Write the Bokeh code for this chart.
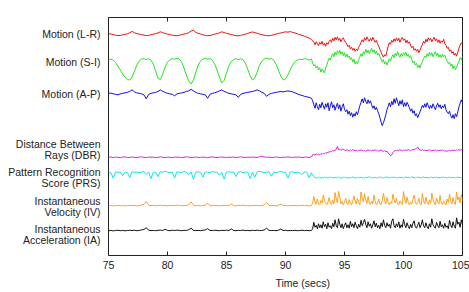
import numpy as np
from bokeh.plotting import figure
from bokeh.models import Range1d, FixedTicker, LinearAxis, Title
from bokeh.embed import file_html
from bokeh.resources import INLINE

# Two sampling segments: calm phase (0.2 s steps from 75 s, 87 samples)
# and disturbed phase (0.1 s steps from 92.3 s, 128 samples)
pre_start, pre_step = 75.0, 0.2
post_start, post_step = 92.3, 0.1

# ---- Motion (L-R) ----
motion_lr_pre = [
    0.7, 0.3, -0.3, -0.8, -1.2, -1.0, -0.6, 0.0, 0.6, 1.5,
    3.0, 1.6, 0.8, 0.2, -0.3, -0.8, -1.3, -1.0, -0.4, 0.2,
    0.8, 1.5, 2.6, 1.7, 0.9, 0.3, -0.2, -0.8, -1.2, -1.4,
    -0.9, -0.3, 0.3, 0.9, 1.6, 3.4, 4.2, 2.0, 1.0, 0.3,
    -0.4, -1.0, -1.4, -1.1, -0.5, 0.2, 0.8, 1.5, 2.6, 1.8,
    1.0, 0.4, -0.2, -0.8, -1.3, -1.5, -1.0, -0.4, 0.3, 0.9,
    1.8, 2.4, 1.8, 1.0, 0.3, -0.3, -0.9, -1.3, -1.4, -1.0,
    -0.4, 0.3, 0.9, 1.4, 1.9, 2.6, 2.2, 2.8, 2.0, 1.4,
    0.6, -0.2, -1.0, -1.8, -2.8, -3.8, -5.0,
]
motion_lr_post = [
    -6.5, -8.0, -10.5, -7.5, -9.5, -11.5, -8.0, -10.0, -7.0, -11.0,
    -9.0, -12.0, -8.5, -10.0, -7.0, -5.5, -8.0, -4.0, -6.5, -3.0,
    -5.5, -2.5, -6.0, -4.0, -7.5, -5.0, -3.5, -6.5, -8.0, -10.0,
    -12.5, -11.0, -14.5, -13.0, -16.0, -14.0, -17.0, -15.0, -16.5, -13.0,
    -11.0, -8.0, -5.5, -7.5, -3.5, -6.0, -2.5, -5.0, -7.0, -4.0,
    -6.5, -3.0, -5.5, -8.0, -6.0, -9.5, -12.0, -15.0, -18.0, -21.0,
    -23.0, -20.5, -22.0, -17.0, -12.0, -8.5, -10.0, -6.0, -8.0, -4.5,
    -7.0, -3.5, -6.5, -4.0, -8.0, -5.0, -3.0, -6.0, -4.5, -8.5,
    -6.0, -9.0, -7.5, -11.0, -13.5, -12.0, -16.0, -14.5, -17.0, -15.0,
    -18.5, -16.0, -13.0, -10.5, -7.0, -9.0, -5.0, -7.5, -3.5, -6.0,
    -4.0, -7.5, -5.0, -3.0, -6.5, -4.5, -8.0, -5.5, -9.0, -6.5,
    -8.0, -5.0, -9.5, -11.0, -14.0, -13.0, -17.0, -15.5, -19.0, -17.5,
    -21.0, -19.0, -22.0, -18.0, -14.0, -11.0, -8.5, -10.5,
]

# ---- Motion (S-I) ----
motion_si_pre = [
    0.5, 1.0, 0.0, -2.5, -6.0, -10.0, -14.0, -17.5, -19.5, -20.0,
    -17.0, -11.0, -5.0, -1.0, 1.0, 1.5, 0.5, 1.5, 0.0, -4.0,
    -11.0, -18.5, -19.5, -14.0, -7.0, -2.0, 0.5, 1.5, 1.0, 2.0,
    1.0, -2.0, -8.0, -15.0, -21.0, -24.0, -20.0, -12.0, -5.0, -1.0,
    1.0, 2.0, 1.0, 1.5, 0.0, -4.0, -10.0, -17.0, -23.0, -20.5,
    -13.0, -6.0, -1.5, 0.5, 1.5, 0.5, 1.5, 0.5, -3.0, -9.0,
    -16.0, -20.0, -18.0, -12.0, -5.0, -1.0, 1.0, 2.0, 1.0, 1.5,
    0.0, -4.0, -10.0, -16.0, -20.0, -19.0, -15.0, -10.0, -5.0, -1.5,
    0.0, 1.0, 0.5, 1.5, 1.0, 0.0, 1.0,
]
motion_si_post = [
    -3.0, -6.0, -4.5, -8.0, -6.0, -10.0, -7.5, -12.0, -9.0, -11.0,
    -13.0, -8.0, -5.0, -1.0, 2.0, 0.0, 4.0, 6.5, 3.5, 8.0,
    5.5, 9.5, 7.0, 10.0, 6.0, 8.5, 4.5, 7.5, 3.0, 6.0,
    2.5, 4.0, 0.5, 2.5, -2.0, 1.0, -4.0, -1.5, -3.5, 0.5,
    3.0, 6.5, 4.0, 8.5, 6.0, 11.0, 7.5, 10.0, 6.5, 9.0,
    12.0, 8.0, 10.5, 6.5, 9.0, 5.0, 7.0, 3.5, 1.0, -2.0,
    0.5, -4.0, -1.5, -5.0, -2.0, 1.5, -1.0, 3.0, 5.5, 2.5,
    7.0, 4.5, 8.5, 5.0, 3.0, 6.5, 4.0, 7.5, 5.5, 8.0,
    4.0, 6.0, 2.5, 4.5, 0.5, -2.5, -1.0, -5.0, -3.0, -7.5,
    -5.0, -8.0, -4.0, -1.5, 1.5, 4.0, 2.5, 6.5, 4.0, 8.0,
    5.0, 7.5, 3.5, 6.0, 8.5, 4.5, 7.0, 3.0, 5.5, 2.5,
    6.0, 3.5, 5.0, 1.5, -1.0, -3.5, -2.0, -6.0, -4.0, -8.5,
    -6.0, -9.5, -7.0, -4.0, -1.0, 2.5, 0.5, 3.5,
]

# ---- Motion (A-P) ----
motion_ap_pre = [
    0.5, 0.8, 0.0, -0.5, -1.0, 0.0, 0.5, 1.0, 1.5, 2.5,
    4.0, 2.0, 1.0, 0.5, 0.0, -1.0, -5.0, -0.5, 0.5, 1.0,
    1.5, 2.5, 4.0, 2.5, 1.5, 0.5, 0.0, -0.5, -2.0, 0.0,
    0.5, 1.0, 1.5, 2.5, 3.0, 4.5, 3.0, 1.5, 0.5, 0.0,
    -0.5, -1.0, -4.5, -0.5, 0.5, 1.0, 2.0, 3.0, 4.0, 2.5,
    1.5, 0.5, 0.0, -0.5, -1.0, -3.5, -0.5, 0.5, 1.0, 1.5,
    2.0, 2.5, 3.0, 4.0, 3.0, 1.5, 0.5, -2.5, -0.5, 0.5,
    1.0, 1.5, 2.0, 2.5, 2.0, 2.5, 3.0, 2.5, 2.0, 1.0,
    0.0, -1.0, -1.5, -2.5, -3.0, -3.5, -4.5,
]
motion_ap_post = [
    -7.0, -11.0, -14.5, -9.0, -13.0, -16.0, -10.5, -14.0, -8.5, -12.0,
    -15.5, -10.0, -13.5, -9.0, -17.0, -12.0, -8.0, -14.0, -11.0, -16.5,
    -12.5, -9.5, -15.0, -11.0, -17.5, -13.0, -10.0, -15.5, -18.0, -16.0,
    -20.5, -17.5, -22.0, -19.0, -23.5, -20.0, -22.5, -18.0, -21.0, -16.5,
    -12.0, -8.5, -5.0, -9.0, -4.0, -7.5, -10.0, -6.0, -9.5, -7.0,
    -11.0, -14.5, -12.0, -16.0, -13.5, -17.0, -20.0, -24.0, -28.5, -32.0,
    -29.0, -25.5, -21.0, -16.0, -12.5, -9.0, -13.0, -7.5, -11.0, -5.0,
    -9.5, -4.0, -8.0, -12.0, -7.0, -10.5, -6.0, -13.0, -9.0, -12.5,
    -8.5, -11.0, -14.0, -17.5, -15.0, -19.5, -17.0, -22.0, -20.0, -24.0,
    -21.0, -18.0, -15.0, -11.5, -14.0, -10.0, -13.5, -9.0, -12.0, -15.0,
    -11.5, -14.5, -10.0, -13.0, -16.0, -12.0, -9.5, -13.5, -11.0, -15.0,
    -12.0, -14.0, -10.5, -16.0, -18.5, -20.0, -17.5, -22.0, -24.5, -21.0,
    -25.0, -20.0, -23.0, -18.0, -13.0, -9.5, -6.0, -9.0,
]

# ---- Distance Between Rays (DBR) ----
dbr_pre = [
    0.0, 0.3, -0.2, 0.2, 0.0, -0.3, 0.2, 0.4, 0.0, -0.2,
    0.3, 0.0, -0.3, 0.2, 0.5, 0.0, -0.2, 0.3, 0.0, 0.2,
    -0.3, 0.0, 0.4, 0.1, -0.2, 0.2, 0.0, -0.3, 0.3, 0.0,
    0.2, -0.2, 0.0, 0.5, 0.2, -0.1, 0.0, 0.3, -0.2, 0.0,
    0.2, 0.0, -0.3, 0.2, 0.4, 0.0, -0.2, 0.1, 0.3, 0.0,
    -0.2, 0.2, 0.0, 0.3, -0.1, 0.0, 0.4, 0.1, -0.2, 0.2,
    0.0, 0.3, 0.0, -0.2, 0.5, 1.2, 0.4, 0.0, 0.2, -0.2,
    0.0, 0.3, 0.1, -0.2, 0.2, 0.0, 0.4, 0.1, -0.1, 0.2,
    0.0, 0.3, -0.2, 0.1, 0.2, 0.0, 0.3,
]
dbr_post = [
    2.5, 3.0, 2.2, 3.5, 2.8, 3.2, 2.6, 3.8, 3.0, 4.2,
    3.6, 4.8, 4.2, 5.5, 5.0, 6.2, 5.8, 6.8, 6.4, 7.2,
    8.0, 11.0, 7.5, 8.2, 7.0, 7.8, 8.5, 7.2, 6.8, 7.6,
    7.0, 6.4, 7.5, 6.8, 7.8, 7.2, 6.5, 7.0, 6.2, 7.4,
    6.8, 7.6, 7.0, 6.5, 7.2, 6.0, 6.8, 7.5, 6.6, 7.0,
    6.4, 7.2, 6.8, 7.6, 6.5, 7.0, 6.2, 6.8, 7.4, 6.6,
    6.0, 6.8, 5.5, 6.2, 4.5, 3.0, 1.5, 2.5, 4.8, 6.2,
    7.0, 6.5, 7.4, 6.8, 7.6, 7.0, 6.4, 7.2, 6.8, 7.5,
    7.0, 7.8, 7.2, 6.6, 7.4, 8.0, 7.5, 8.4, 9.0, 10.5,
    8.2, 7.4, 7.0, 7.8, 6.8, 7.4, 6.6, 7.2, 6.8, 7.6,
    7.0, 6.5, 7.2, 6.8, 7.5, 6.4, 7.0, 6.6, 7.3, 6.8,
    7.4, 6.9, 6.2, 6.8, 6.0, 6.6, 7.0, 6.4, 7.2, 6.7,
    7.3, 6.8, 7.5, 7.0, 7.8, 7.2, 7.6, 8.0,
]

# ---- Pattern Recognition Score (PRS) ----
prs_pre = [
    1.0, 0.5, -5.0, 1.5, 0.8, 1.2, -2.5, 1.0, 0.5, -4.5,
    1.5, 0.8, 1.2, 0.5, 1.0, 1.8, -1.0, 1.2, -5.5, 0.8,
    1.0, -3.5, 1.5, 1.0, 2.0, 1.2, 0.5, 1.0, -5.0, 1.5,
    1.0, 0.5, 1.8, 1.0, -1.5, 1.2, -6.0, 1.0, 1.5, 0.8,
    -4.0, 1.2, 1.0, 0.5, 1.8, 1.0, 1.2, -2.0, 0.8, -6.0,
    1.0, 1.5, 0.8, 1.2, -3.5, 1.0, 1.8, 0.5, 1.2, 1.0,
    -5.5, 0.8, -4.0, 1.5, 2.0, 1.2, 0.5, 1.0, 1.5, -3.0,
    1.0, 0.5, 1.2, 1.8, 1.0, 0.8, -5.0, 1.2, 1.5, 0.5,
    1.0, 0.5, -1.5, 1.5, 1.0, -4.5, 0.5,
]
prs_post = [
    -2.0, -3.5, -4.5, -5.0, -4.2, -4.8, -4.0, -5.0, -4.4, -4.9,
    -3.8, -4.6, -4.2, -5.0, -4.5, -3.6, -4.8, -4.3, -5.1, -4.0,
    -4.7, -4.2, -3.8, -4.9, -4.5, -5.0, -4.1, -4.6, -3.9, -4.8,
    -4.4, -5.0, -4.2, -4.7, -3.7, -4.5, -4.9, -4.3, -5.0, -4.1,
    -4.6, -3.8, -4.8, -4.4, -5.0, -4.0, -4.7, -4.2, -3.5, -4.6,
    -4.9, -4.3, -4.8, -4.0, -4.5, -5.0, -4.2, -3.6, -4.7, -4.4,
    -5.0, -4.1, -4.6, -3.4, -4.8, -4.3, -4.9, -4.0, -4.5, -3.7,
    -4.8, -4.2, -5.0, -4.4, -3.9, -4.7, -4.1, -4.9, -4.3, -3.6,
    -4.6, -4.0, -4.8, -4.5, -3.2, -4.7, -4.2, -5.0, -4.4, -3.8,
    -4.6, -4.1, -4.9, -4.3, -3.5, -4.8, -4.0, -4.6, -4.2, -5.0,
    -4.4, -3.7, -4.8, -4.1, -4.6, -3.9, -4.7, -4.3, -5.0, -4.0,
    -4.5, -3.6, -4.8, -4.2, -4.9, -4.4, -3.8, -4.7, -4.1, -4.6,
    -4.0, -4.8, -4.3, -3.7, -4.6, -4.2, -4.9, -4.4,
]

# ---- Instantaneous Velocity (IV) ----
iv_pre = [
    0.2, 0.5, 0.0, 0.3, 0.6, 0.1, 0.4, 0.0, 0.3, 0.5,
    0.2, 0.6, 0.0, 0.4, 1.0, 1.5, 4.5, 0.8, 0.3, 0.5,
    0.1, 0.4, 0.7, 0.2, 0.5, 0.0, 0.3, 0.6, 0.2, 0.8,
    0.4, 0.1, 0.5, 0.3, 1.2, 4.0, 0.6, 0.2, 0.4, 0.0,
    0.5, 0.9, 2.5, 0.4, 0.2, 0.6, 0.3, 0.0, 0.5, 0.3,
    0.7, 0.2, 2.0, 0.4, 0.1, 0.5, 0.3, 0.8, 0.2, 0.4,
    0.0, 0.5, 0.3, 0.6, 0.2, 0.4, 1.0, 3.5, 0.5, 0.2,
    0.4, 0.1, 0.6, 2.0, 0.3, 0.5, 0.0, 0.4, 0.2, 0.5,
    0.1, 0.3, 0.6, 0.2, 0.4, 0.0, 0.3,
]
iv_post = [
    3.0, 9.5, 4.0, 1.5, 7.0, 2.0, 1.0, 5.5, 3.0, 11.0,
    6.0, 2.5, 1.0, 4.0, 8.5, 3.0, 1.5, 6.0, 2.0, 13.5,
    7.0, 3.0, 15.0, 9.0, 2.0, 4.5, 1.0, 3.5, 8.0, 2.5,
    1.5, 6.5, 3.0, 1.0, 4.5, 10.0, 5.0, 2.0, 7.5, 3.5,
    1.0, 14.0, 8.0, 4.0, 12.5, 6.0, 2.5, 9.5, 3.0, 1.5,
    5.0, 2.0, 11.0, 4.5, 1.0, 3.0, 7.0, 2.0, 1.5, 6.0,
    13.0, 5.5, 2.0, 8.5, 3.5, 1.0, 4.0, 2.5, 12.0, 6.0,
    3.0, 7.5, 2.0, 1.0, 5.0, 3.0, 1.5, 14.5, 7.0, 2.5,
    9.0, 3.5, 1.0, 4.0, 2.0, 6.5, 11.0, 4.0, 1.5, 3.0,
    7.5, 2.5, 1.0, 12.5, 5.0, 2.0, 9.0, 3.5, 1.5, 6.0,
    2.5, 13.0, 6.5, 3.0, 1.0, 8.0, 4.0, 2.0, 10.5, 3.0,
    1.5, 5.0, 2.0, 1.0, 7.0, 3.5, 12.0, 5.0, 2.0, 8.5,
    3.0, 1.5, 14.0, 6.0, 9.0, 3.0, 11.5, 5.0,
]

# ---- Instantaneous Acceleration (IA) ----
ia_pre = [
    0.0, 0.3, -0.2, 0.2, 0.4, 0.0, 0.3, -0.1, 0.2, 0.4,
    0.1, 0.5, 0.0, 0.3, 0.8, 1.2, 3.0, 0.5, 0.1, 0.3,
    0.0, 0.4, 0.6, 0.2, 1.5, 0.3, 0.0, 0.5, 0.2, 0.6,
    0.3, 0.0, 0.4, 0.2, 1.0, 2.5, 0.4, 0.1, 0.3, 0.0,
    0.4, 0.8, 2.0, 0.3, 0.1, 0.5, 0.2, 0.0, 0.4, 0.2,
    0.6, 0.1, 1.8, 0.3, 0.0, 0.4, 0.2, 0.6, 0.1, 0.3,
    0.0, 0.4, 0.2, 0.5, 0.1, 0.3, 0.8, 2.5, 0.4, 0.1,
    0.3, 0.0, 0.5, 1.6, 0.2, 0.4, 0.0, 0.3, 0.1, 0.4,
    0.0, 0.2, 0.5, 0.1, 0.3, 0.0, 0.2,
]
ia_post = [
    2.0, 8.5, 3.5, 5.5, 2.0, 7.0, 3.0, 6.0, 2.5, 9.0,
    4.0, 6.5, 2.0, 8.0, 3.5, 5.0, 2.0, 7.5, 4.0, 11.0,
    5.0, 3.0, 12.0, 6.5, 3.0, 7.0, 2.0, 5.5, 8.0, 3.0,
    6.0, 2.5, 9.5, 4.0, 7.0, 3.0, 8.5, 5.0, 2.0, 6.5,
    3.5, 10.5, 5.0, 8.0, 11.5, 6.0, 3.0, 9.0, 4.5, 7.0,
    2.5, 6.0, 10.0, 4.0, 7.5, 3.0, 5.5, 2.0, 8.0, 4.0,
    11.0, 5.5, 3.0, 8.0, 4.5, 6.5, 2.5, 9.5, 12.0, 5.0,
    3.0, 7.0, 4.0, 9.0, 2.5, 6.0, 3.5, 11.5, 6.0, 3.0,
    8.0, 4.5, 2.0, 6.5, 3.0, 7.5, 10.0, 4.0, 2.5, 5.5,
    8.5, 3.0, 6.0, 11.0, 5.0, 3.0, 8.0, 4.0, 2.0, 7.0,
    3.5, 12.0, 6.0, 4.0, 2.5, 8.5, 5.0, 3.0, 9.5, 4.0,
    6.0, 2.5, 7.5, 3.5, 5.0, 2.0, 10.5, 6.0, 3.0, 9.0,
    4.5, 2.5, 13.0, 6.5, 8.5, 3.5, 11.0, 6.0,
]

traces = [
    (motion_lr_pre, motion_lr_post),
    (motion_si_pre, motion_si_post),
    (motion_ap_pre, motion_ap_post),
    (dbr_pre, dbr_post),
    (prs_pre, prs_post),
    (iv_pre, iv_post),
    (ia_pre, ia_post),
]
# Vertical stacking offset of each trace
offsets = [223, 197, 163, 99, 83, 50, 25]
colors = ["#ee1111", "#22e622", "#1010dd", "#dd22dd", "#11e5ee", "#ffa020", "#111111"]

# Trace names on the left axis, one entry per text line
name_lines = [
    "Motion (L-R)",
    "Motion (S-I)",
    "Motion (A-P)",
    "Distance Between", "Rays (DBR)",
    "Pattern Recognition", "Score (PRS)",
    "Instantaneous", "Velocity (IV)",
    "Instantaneous", "Acceleration (IA)",
]
name_pos = [223, 195, 163, 112, 101, 84, 73, 55, 44, 27, 16]

x_ticks = [75, 80, 85, 90, 95, 100, 105]
x_title = "Time (secs)"

FONT = "Liberation Sans"
FSIZE = "10.5px"
INK = "#222222"

p = figure(width=469, height=292, output_backend="svg", toolbar_location=None,
           x_range=Range1d(75, 105), y_range=Range1d(0, 240),
           min_border_left=108, min_border_right=7, min_border_top=17,
           min_border_bottom=35)
p.background_fill_color = "white"
p.border_fill_color = "white"
p.outline_line_color = INK
p.outline_line_width = 1
p.xgrid.visible = False
p.ygrid.visible = False

for (pre, post), off, col in zip(traces, offsets, colors):
    t = np.concatenate([pre_start + pre_step * np.arange(len(pre)),
                        post_start + post_step * np.arange(len(post))])
    v = np.concatenate([pre, post])
    p.line(t, off + v, line_color=col, line_width=1)

# Bottom axis
xa = p.xaxis[0]
xa.ticker = FixedTicker(ticks=x_ticks)
xa.major_tick_in = 4
xa.major_tick_out = 0
xa.minor_tick_line_color = None
xa.axis_line_color = None
xa.major_tick_line_color = INK
xa.major_label_text_font = FONT
xa.major_label_text_font_size = FSIZE
xa.major_label_text_color = INK
xa.major_label_standoff = 5

# Top border: tick marks only
top = LinearAxis(ticker=FixedTicker(ticks=[], minor_ticks=x_ticks),
                 minor_tick_in=4, minor_tick_out=0, minor_tick_line_color=INK,
                 major_tick_line_color=None, axis_line_color=None)
p.add_layout(top, "above")

# Left axis carries the trace names
ya = p.yaxis[0]
ya.ticker = FixedTicker(ticks=name_pos)
ya.major_label_overrides = {k: v for k, v in zip(name_pos, name_lines)}
ya.major_tick_in = 0
ya.major_tick_out = 0
ya.minor_tick_line_color = None
ya.axis_line_color = None
ya.major_label_text_font = FONT
ya.major_label_text_font_size = FSIZE
ya.major_label_text_color = INK
ya.major_label_standoff = 8

# Axis title, placed a little right of the frame centre
p.add_layout(Title(text=x_title, align="left", offset=167, standoff=7,
                   text_font=FONT, text_font_size=FSIZE, text_font_style="normal",
                   text_color=INK), "below")

open("out.html", "w").write(file_html(p, INLINE))
